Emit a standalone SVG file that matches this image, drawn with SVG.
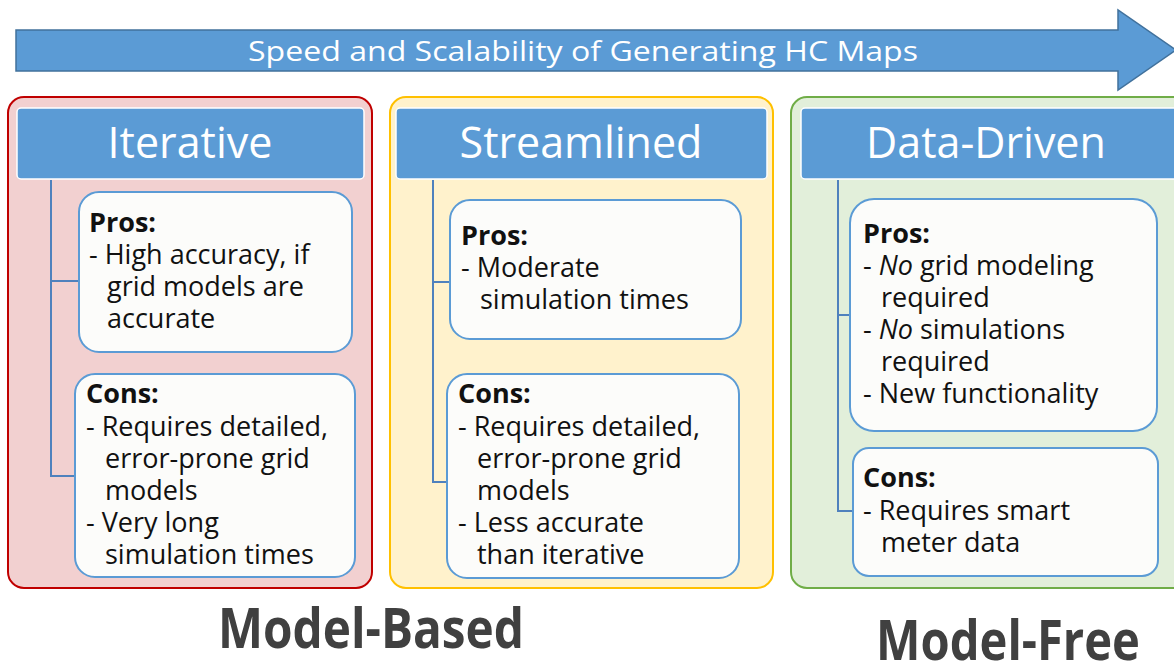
<svg xmlns="http://www.w3.org/2000/svg" width="1174" height="661" viewBox="0 0 1174 661">
  <style>
    text { font-family: "Open Sans", "Liberation Sans", sans-serif; }
    .hdr { fill: #5b9bd5; stroke: #ffffff; stroke-width: 1.5; }
    .hdr-t { fill: #ffffff; font-size: 43px; text-anchor: middle; }
    .card { fill: #fcfcfa; stroke: #5b9bd5; stroke-width: 2; }
    .body { fill: #111111; font-size: 27px; }
    .lbl { font-weight: bold; }
    .link { fill: none; stroke: #4f81bd; stroke-width: 2; }
    .big { fill: #404040; font-weight: bold; font-size: 56px; }
  </style>

  <!-- direction arrow -->
  <g id="speed-arrow">
    <path d="M16,30 H1118 V10 L1176,50 L1118,90 V71 H16 Z" fill="#5b9bd5" stroke="#41719c" stroke-width="1.5"/>
    <text x="583" y="61" fill="#ffffff" font-size="27" text-anchor="middle" textLength="670" lengthAdjust="spacingAndGlyphs">Speed and Scalability of Generating HC Maps</text>
  </g>

  <!-- panel backgrounds -->
  <g id="panel-iterative">
    <rect x="8" y="97" width="364" height="491" rx="16" fill="#f2d0d0" stroke="#c00000" stroke-width="2"/>
  </g>
  <g id="panel-streamlined">
    <rect x="390" y="97" width="383" height="491" rx="16" fill="#fff2cc" stroke="#ffc000" stroke-width="2"/>
  </g>
  <g id="panel-datadriven">
    <rect x="791" y="97" width="400" height="491" rx="16" fill="#e2efda" stroke="#70ad47" stroke-width="2"/>
  </g>

  <!-- connectors from headers to cards -->
  <g id="connectors">
    <path class="link" d="M51,180 V476 H75 M51,281 H79"/>
    <path class="link" d="M433,180 V482 H447 M433,282 H450"/>
    <path class="link" d="M838,180 V511 H853 M838,315 H850"/>
  </g>

  <!-- Iterative -->
  <g id="iterative-header">
    <rect class="hdr" x="17" y="108" width="347" height="71" rx="4"/>
    <text class="hdr-t" x="190" y="158">Iterative</text>
  </g>
  <g id="iterative-pros">
    <rect class="card" x="79" y="192" width="273" height="160" rx="20"/>
    <text class="body" x="89" y="232"><tspan class="lbl">Pros:</tspan></text>
    <text class="body" x="89" y="264">- High accuracy, if</text>
    <text class="body" x="107" y="296">grid models are</text>
    <text class="body" x="107" y="328">accurate</text>
  </g>
  <g id="iterative-cons">
    <rect class="card" x="75" y="374" width="280" height="203" rx="20"/>
    <text class="body" x="86" y="403"><tspan class="lbl">Cons:</tspan></text>
    <text class="body" x="86" y="436">- Requires detailed,</text>
    <text class="body" x="105" y="468">error-prone grid</text>
    <text class="body" x="105" y="500">models</text>
    <text class="body" x="86" y="532">- Very long</text>
    <text class="body" x="105" y="564">simulation times</text>
  </g>

  <!-- Streamlined -->
  <g id="streamlined-header">
    <rect class="hdr" x="396" y="108" width="371" height="71" rx="4"/>
    <text class="hdr-t" x="581" y="158">Streamlined</text>
  </g>
  <g id="streamlined-pros">
    <rect class="card" x="450" y="200" width="291" height="139" rx="20"/>
    <text class="body" x="461" y="245"><tspan class="lbl">Pros:</tspan></text>
    <text class="body" x="461" y="277">- Moderate</text>
    <text class="body" x="480" y="309">simulation times</text>
  </g>
  <g id="streamlined-cons">
    <rect class="card" x="447" y="374" width="292" height="204" rx="20"/>
    <text class="body" x="458" y="403"><tspan class="lbl">Cons:</tspan></text>
    <text class="body" x="458" y="436">- Requires detailed,</text>
    <text class="body" x="477" y="468">error-prone grid</text>
    <text class="body" x="477" y="500">models</text>
    <text class="body" x="458" y="532">- Less accurate</text>
    <text class="body" x="477" y="564">than iterative</text>
  </g>

  <!-- Data-Driven -->
  <g id="datadriven-header">
    <rect class="hdr" x="801" y="108" width="390" height="71" rx="4"/>
    <text class="hdr-t" x="986" y="158">Data-Driven</text>
  </g>
  <g id="datadriven-pros">
    <rect class="card" x="850" y="199" width="307" height="232" rx="24"/>
    <text class="body" x="863" y="243"><tspan class="lbl">Pros:</tspan></text>
    <text class="body" x="863" y="275">- <tspan font-style="italic">No</tspan> grid modeling</text>
    <text class="body" x="881" y="307">required</text>
    <text class="body" x="863" y="339">- <tspan font-style="italic">No</tspan> simulations</text>
    <text class="body" x="881" y="371">required</text>
    <text class="body" x="863" y="403">- New functionality</text>
  </g>
  <g id="datadriven-cons">
    <rect class="card" x="853" y="448" width="305" height="128" rx="16"/>
    <text class="body" x="863" y="487"><tspan class="lbl">Cons:</tspan></text>
    <text class="body" x="863" y="520">- Requires smart</text>
    <text class="body" x="881" y="552">meter data</text>
  </g>

  <!-- category captions -->
  <g id="caption-model-based">
    <text class="big" x="218" y="648" textLength="306" lengthAdjust="spacingAndGlyphs">Model-Based</text>
  </g>
  <g id="caption-model-free">
    <text class="big" x="876" y="660" textLength="264" lengthAdjust="spacingAndGlyphs">Model-Free</text>
  </g>
</svg>
